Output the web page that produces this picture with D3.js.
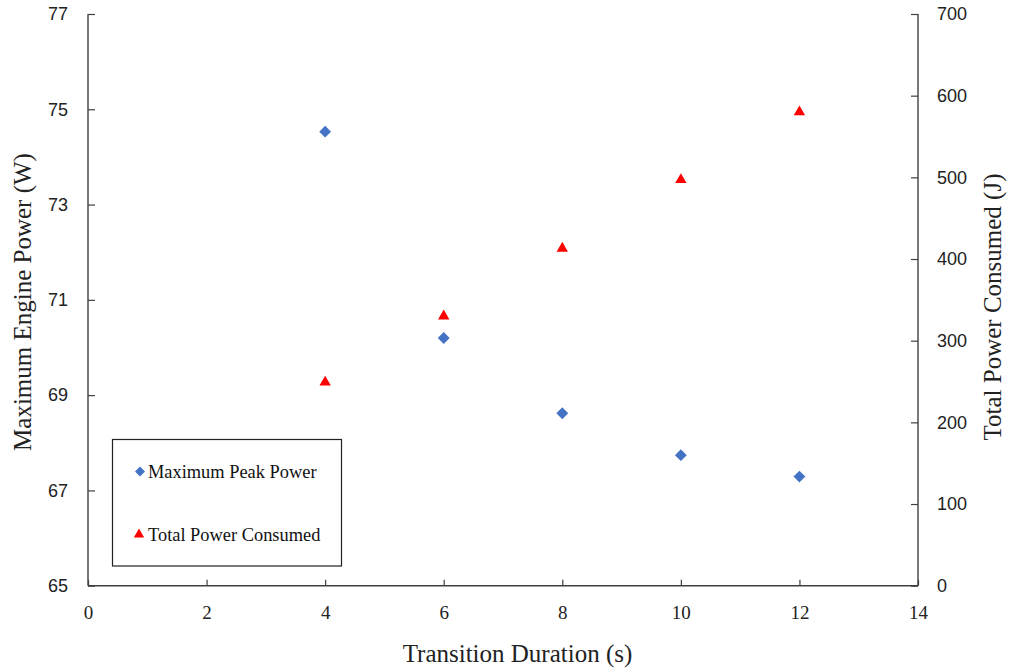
<!DOCTYPE html>
<html><head><meta charset="utf-8">
<script src="https://cdn.jsdelivr.net/npm/d3@7"></script>
<style>body{margin:0;background:#fff}svg{display:block}</style>
</head><body>
<svg id="c" width="1009" height="670"></svg>
<script>
const durations = [4, 6, 8, 10, 12];
const peakPower = [74.53, 70.2, 68.62, 67.74, 67.29];
const totalPower = [249, 330, 413, 497, 580];
const xTicks = [0, 2, 4, 6, 8, 10, 12, 14];
const yLeftTicks = [65, 67, 69, 71, 73, 75, 77];
const yRightTicks = [0, 100, 200, 300, 400, 500, 600, 700];
const seriesNames = ["Maximum Peak Power", "Total Power Consumed"];

const svg = d3.select("#c");
const L = 88, R = 918, T = 14, B = 585.7;
const x = d3.scaleLinear().domain([0, 14]).range([L, R]);
const yL = d3.scaleLinear().domain([65, 77]).range([B, T]);
const yR = d3.scaleLinear().domain([0, 700]).range([B, T]);
const axisColor = "#404040";
const serif = "'Liberation Serif','Times New Roman',serif";
const sans = "'Liberation Sans',Arial,sans-serif";

const gx = svg.append("g").attr("transform", `translate(0,${B})`)
  .call(d3.axisTop(x).tickValues(xTicks).tickSize(6).tickPadding(0).tickFormat(d3.format("d")));
gx.selectAll("text").attr("dy", null).attr("y", 33).attr("font-family", serif).attr("font-size", 19).attr("fill", "#222");

const gl = svg.append("g").attr("transform", `translate(${L},0)`)
  .call(d3.axisRight(yL).tickValues(yLeftTicks).tickSize(7).tickFormat(d3.format("d")));
gl.selectAll("text").attr("x", -20).attr("text-anchor", "end").attr("font-family", sans).attr("font-size", 18).attr("fill", "#222");

const gr = svg.append("g").attr("transform", `translate(${R},0)`)
  .call(d3.axisLeft(yR).tickValues(yRightTicks).tickSize(7).tickFormat(d3.format("d")));
gr.selectAll("text").attr("x", 19).attr("text-anchor", "start").attr("font-family", sans).attr("font-size", 18).attr("fill", "#222");

[gx, gl, gr].forEach(g => {
  g.select(".domain").attr("stroke", axisColor).attr("stroke-width", 1.4);
  g.selectAll(".tick line").attr("stroke", axisColor).attr("stroke-width", 1.2);
});
gx.select(".domain").attr("d", `M${L},0H${R}`);
gl.select(".domain").attr("d", `M0,${T}V${B}`);
gr.select(".domain").attr("d", `M0,${T}V${B}`);

const diamond = d3.symbol().type(d3.symbolSquare).size(70);
const tri = d3.symbol().type(d3.symbolTriangle).size(56);

svg.append("g").selectAll("path").data(durations).join("path")
  .attr("d", diamond())
  .attr("transform", (d, i) => `translate(${x(d)},${yL(peakPower[i])}) rotate(45)`)
  .attr("fill", "#4472C4");

svg.append("g").selectAll("path").data(durations).join("path")
  .attr("d", tri())
  .attr("transform", (d, i) => `translate(${x(d)},${yR(totalPower[i])})`)
  .attr("fill", "#FF0000");

// legend
const lg = svg.append("g");
lg.append("rect").attr("x", 112.5).attr("y", 439.5).attr("width", 229).attr("height", 126.5)
  .attr("fill", "#fff").attr("stroke", "#222").attr("stroke-width", 1.2);
lg.append("path").attr("d", d3.symbol().type(d3.symbolSquare).size(50)())
  .attr("transform", "translate(140,471.5) rotate(45)").attr("fill", "#4472C4");
lg.append("path").attr("d", d3.symbol().type(d3.symbolTriangle).size(46)())
  .attr("transform", "translate(139,534.5)").attr("fill", "#FF0000");
lg.append("text").attr("x", 148).attr("y", 477.5).text(seriesNames[0])
  .attr("font-family", serif).attr("font-size", 18.4).attr("fill", "#111");
lg.append("text").attr("x", 148).attr("y", 540.5).text(seriesNames[1])
  .attr("font-family", serif).attr("font-size", 18.4).attr("fill", "#111");

// axis titles
svg.append("text").attr("x", 517.5).attr("y", 662).attr("text-anchor", "middle")
  .attr("font-family", serif).attr("font-size", 25).attr("fill", "#222").text("Transition Duration (s)");
svg.append("text").attr("transform", "translate(31,302) rotate(-90)").attr("text-anchor", "middle")
  .attr("font-family", serif).attr("font-size", 25).attr("fill", "#222").text("Maximum Engine Power (W)");
svg.append("text").attr("transform", "translate(1001,307) rotate(-90)").attr("text-anchor", "middle")
  .attr("font-family", serif).attr("font-size", 25).attr("fill", "#222").text("Total Power Consumed (J)");
</script>
</body></html>
